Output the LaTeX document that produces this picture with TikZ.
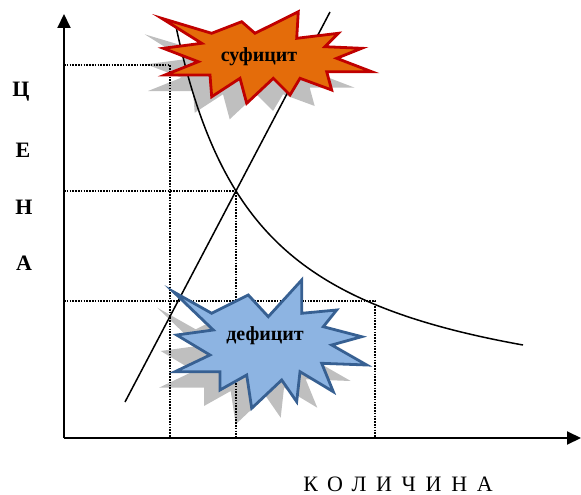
\documentclass[tikz,border=0pt]{standalone}
\usepackage{fontspec}
\setmainfont{Liberation Serif}
\usetikzlibrary{arrows.meta}
\definecolor{orangefill}{RGB}{228,108,10}
\definecolor{redline}{RGB}{192,0,0}
\definecolor{bluefill}{RGB}{141,180,226}
\definecolor{blueline}{RGB}{55,96,146}
\definecolor{shadowgray}{RGB}{191,191,191}
\tikzset{
  axisline/.style={line width=2pt,-{Triangle[width=13pt,length=14pt]}},
  dotline/.style={line width=1.5pt,dash pattern=on 1.5pt off 1.3pt},
  curveline/.style={line width=1.5pt},
  shadowstar/.style={fill=shadowgray,draw=none},
  redstar/.style={fill=orangefill,draw=redline,line width=2.8pt,line join=miter},
  bluestar/.style={fill=bluefill,draw=blueline,line width=2.8pt,line join=miter},
  redpath/.style={insert path={(161.7,18.3) -- (211.7,33.3) -- (241.7,21.7) -- (255,33.3) -- (298.3,11.7) -- (296.7,38.3) -- (338.3,33.3) -- (325,46.7) -- (361.7,48.3) -- (336.7,58.3) -- (371.7,71.7) -- (326.7,71.7) -- (331.7,90) -- (300,78.3) -- (290,95) -- (273.3,78.3) -- (246.7,103.3) -- (240,78.3) -- (211.7,96.7) -- (210,75) -- (165,75) -- (198.3,61.7) -- (163.3,48.3) -- (201.7,43.3) -- cycle}},
  bluepath/.style={insert path={(173.3,291.7) -- (211.7,313.3) -- (248.3,295) -- (268.3,316.7) -- (301.7,280) -- (301.7,313.3) -- (336.7,310) -- (323.3,326.7) -- (361.7,336.7) -- (331.7,345) -- (366.7,365) -- (321.7,363.3) -- (333.3,391.7) -- (300,371.7) -- (296.7,401.7) -- (281.7,380) -- (251.7,408.3) -- (246.7,375) -- (220,390) -- (220,371.7) -- (175,371.7) -- (210,355) -- (176.7,335) -- (213.3,330) -- cycle}},
  axislabel/.style={font=\fontsize{22}{26}\selectfont\bfseries},
  startext/.style={font=\fontsize{20}{24}\selectfont\bfseries}
}
\begin{document}
\begin{tikzpicture}[x=1pt,y=-1pt]
\useasboundingbox (0,0) rectangle (581,495);
% shadows
\fill[shadowstar,shift={(-17,16)}] [redpath];
\fill[shadowstar,shift={(-16,16)}] [bluepath];
% coordinates
\coordinate (O) at (64,438);
\coordinate (ytop) at (64,14);
\coordinate (xend) at (581,438);
\coordinate (hA) at (64,65);
\coordinate (cA) at (170,65);
\coordinate (bA) at (170,438);
\coordinate (hB) at (64,191);
\coordinate (cB) at (236,191);
\coordinate (bB) at (236,438);
\coordinate (hC) at (64,301);
\coordinate (cC) at (375,301);
\coordinate (bC) at (375,438);
\coordinate (s1) at (125,402);
\coordinate (s2) at (330,12);
% dotted guides
\draw[dotline] (hA) -- (cA) -- (bA);
\draw[dotline] (hB) -- (cB) -- (bB);
\draw[dotline] (hC) -- (cC) -- (bC);
% curves
\draw[curveline] (s1) -- (s2);
\draw[curveline,domain=175:523,samples=90,smooth] plot (\x,{422.6-334.92/((\x-91.4)/100)});
% axes
\draw[axisline] (O) -- (ytop);
\draw[axisline] (O) -- (xend);
% stars
\draw[redstar] [redpath];
\draw[bluestar] [bluepath];
\node[startext] (suf) at (259,57) {суфицит};
\node[startext] (def) at (265,336) {дефицит};
% labels
\node[axislabel] (lC) at (21,92) {Ц};
\node[axislabel] (lE) at (23,150) {Е};
\node[axislabel] (lN) at (24,207) {Н};
\node[axislabel] (lA) at (24,263) {А};
\node[font=\fontsize{22}{26}\selectfont\addfontfeature{LetterSpace=44},inner sep=1pt] (q) at (398,484) {КОЛИЧИНА};
\end{tikzpicture}
\end{document}
